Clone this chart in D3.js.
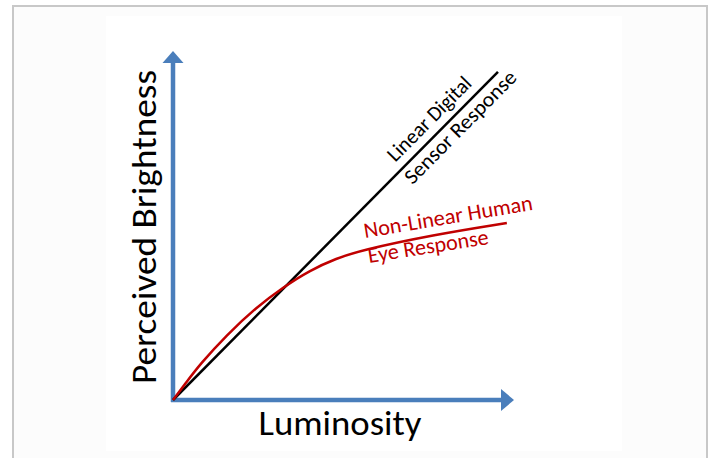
<!DOCTYPE html>
<html lang="en">
<head>
    <meta charset="UTF-8">
    <title>Perceived Brightness vs Luminosity</title>
    <style>
        body { margin: 0; background: #fff; }
        text { font-family: Carlito, Lato, sans-serif; }
    </style>
    <script src="https://d3js.org/d3.v7.min.js"></script>
</head>
<body>
    <script>
        // curves (0-100 units on both axes)
        const sensorLuminosity = [0, 95.3];
        const sensorBrightness = [0, 94.0];
        const eyeLuminosity = [0, 4.0, 7.9, 15.7, 24.5, 32.3, 40.2, 48.0, 54.8, 76.2, 97.9];
        const eyeBrightness = [0, 5.2, 10.2, 18.6, 26.6, 32.3, 37.2, 40.6, 42.8, 47.3, 50.7];
        const axisTitles = ["Luminosity", "Perceived Brightness"];
        const sensorLabels = ["Linear Digital", "Sensor Response"];
        const eyeLabels = ["Non-Linear Human", "Eye Response"];

        const width = 711;
        const height = 458;
        const blue = "#4a7ebb";
        const red = "#c00000";

        const svg = d3.select("body").append("svg")
            .attr("width", width)
            .attr("height", height);

        // frame and white panel
        svg.append("rect")
            .attr("x", 13).attr("y", 6)
            .attr("width", 694).attr("height", 460)
            .attr("fill", "#fcfcfc")
            .attr("stroke", "#c8c8c8")
            .attr("stroke-width", 2);
        svg.append("rect")
            .attr("x", 106).attr("y", 16)
            .attr("width", 516).attr("height", 435)
            .attr("fill", "#fff");

        const x = d3.scaleLinear().domain([0, 100]).range([173, 514]);
        const y = d3.scaleLinear().domain([0, 100]).range([400, 51]);

        // axes with arrow heads
        svg.append("line")
            .attr("x1", x(0)).attr("y1", y(0) + 2)
            .attr("x2", x(0)).attr("y2", y(100) + 12)
            .attr("stroke", blue).attr("stroke-width", 4.5);
        svg.append("path")
            .attr("d", `M${x(0)},${y(100)} L${x(0) - 10.5},${y(100) + 12} L${x(0) + 10.5},${y(100) + 12} Z`)
            .attr("fill", blue);
        svg.append("line")
            .attr("x1", x(0) - 2).attr("y1", y(0))
            .attr("x2", x(100) - 13).attr("y2", y(0))
            .attr("stroke", blue).attr("stroke-width", 4.5);
        svg.append("path")
            .attr("d", `M${x(100)},${y(0)} L${x(100) - 13},${y(0) - 11} L${x(100) - 13},${y(0) + 11} Z`)
            .attr("fill", blue);

        // axis titles
        svg.append("text")
            .attr("x", 340).attr("y", 435)
            .attr("text-anchor", "middle")
            .attr("font-size", 34)
            .attr("textLength", 163)
            .attr("lengthAdjust", "spacingAndGlyphs")
            .text(axisTitles[0]);
        svg.append("text")
            .attr("transform", "translate(156,227) rotate(-90)")
            .attr("text-anchor", "middle")
            .attr("font-size", 34)
            .attr("textLength", 314)
            .attr("lengthAdjust", "spacingAndGlyphs")
            .text(axisTitles[1]);

        const line = d3.line()
            .x(d => x(d[0]))
            .y(d => y(d[1]));

        const sensor = d3.zip(sensorLuminosity, sensorBrightness);
        const eye = d3.zip(eyeLuminosity, eyeBrightness);

        svg.append("path")
            .attr("d", line(sensor))
            .attr("fill", "none")
            .attr("stroke", "#000")
            .attr("stroke-width", 2.5);

        svg.append("path")
            .attr("d", line.curve(d3.curveBasis)(eye))
            .attr("fill", "none")
            .attr("stroke", red)
            .attr("stroke-width", 2.5);

        // labels along the sensor line
        const x0 = x(sensor[0][0]), y0 = y(sensor[0][1]);
        const x1 = x(sensor[1][0]), y1 = y(sensor[1][1]);
        const len = Math.hypot(x1 - x0, y1 - y0);
        const ang = Math.atan2(y1 - y0, x1 - x0) * 180 / Math.PI;
        const at = t => [x0 + (x1 - x0) * t, y0 + (y1 - y0) * t];

        [[sensorLabels[0], 380, -9, 110], [sensorLabels[1], 396, 19, 150]].forEach(([txt, d, dy, tl]) => {
            const p = at(d / len);
            svg.append("text")
                .attr("transform", `translate(${p[0]},${p[1]}) rotate(${ang})`)
                .attr("y", dy)
                .attr("text-anchor", "middle")
                .attr("font-size", 21)
                .attr("textLength", tl)
                .attr("lengthAdjust", "spacingAndGlyphs")
                .text(txt);
        });

        // labels for the eye curve
        [[eyeLabels[0], 365, 238, -9.5, 171], [eyeLabels[1], 369, 263, -9, 122]].forEach(([txt, px, py, a, tl]) => {
            svg.append("text")
                .attr("transform", `translate(${px},${py}) rotate(${a})`)
                .attr("fill", red)
                .attr("font-size", 22)
                .attr("textLength", tl)
                .attr("lengthAdjust", "spacingAndGlyphs")
                .text(txt);
        });
    </script>
</body>
</html>
